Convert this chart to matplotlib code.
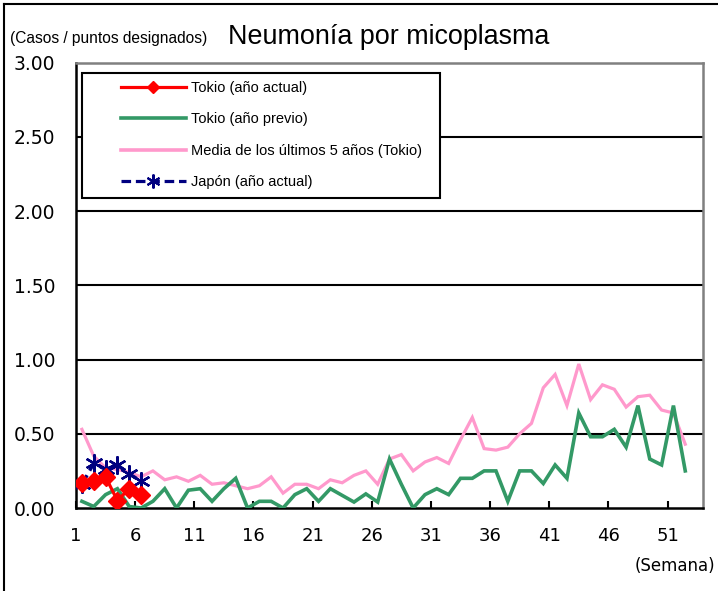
import matplotlib
matplotlib.use("Agg")
import matplotlib.pyplot as plt
from matplotlib.lines import Line2D
from matplotlib.patches import Rectangle
import numpy as np

weeks = list(range(1, 53))
tokyo_prev = [0.045, 0.01, 0.09, 0.13, 0.01, 0.0, 0.045, 0.13, 0.0, 0.12,
              0.13, 0.045, 0.13, 0.20, 0.0, 0.045, 0.045, 0.0, 0.09, 0.13,
              0.045, 0.13, 0.085, 0.04, 0.095, 0.04, 0.33, 0.16, 0.0, 0.09,
              0.13, 0.09, 0.20, 0.20, 0.25, 0.25, 0.045, 0.25, 0.25, 0.165,
              0.29, 0.20, 0.64, 0.48, 0.48, 0.53, 0.41, 0.69, 0.33, 0.29,
              0.69, 0.25]
tokyo_avg5 = [0.53, 0.35, 0.27, 0.26, 0.24, 0.21, 0.25, 0.19, 0.21, 0.18,
              0.22, 0.16, 0.17, 0.15, 0.13, 0.15, 0.21, 0.10, 0.16, 0.16,
              0.13, 0.19, 0.17, 0.22, 0.25, 0.16, 0.33, 0.36, 0.25, 0.31,
              0.34, 0.30, 0.46, 0.61, 0.40, 0.39, 0.41, 0.50, 0.57, 0.81,
              0.90, 0.69, 0.97, 0.73, 0.83, 0.80, 0.68, 0.75, 0.76, 0.66,
              0.64, 0.43]
cur_weeks = [1, 2, 3, 4, 5, 6]
tokyo_cur = [0.17, 0.18, 0.21, 0.05, 0.13, 0.09]
japan_cur = [0.16, 0.30, 0.26, 0.29, 0.23, 0.18]

xtick_labels = ["1", "6", "11", "16", "21", "26", "31", "36", "41", "46", "51"]
yticks = [0.0, 0.5, 1.0, 1.5, 2.0, 2.5, 3.0]

labels = ["Tokio (año actual)", "Tokio (año previo)",
          "Media de los últimos 5 años (Tokio)", "Japón (año actual)"]

W, H = 718, 591
fig = plt.figure(figsize=(W / 100, H / 100), dpi=100)
ax = fig.add_axes([76 / W, 1 - 508 / H, (703 - 76) / W, (508 - 62.7) / H])

c_red = "#FF0000"
c_green = "#339966"
c_pink = "#FF99CC"
c_blue = "#000080"

l_pink, = ax.plot(weeks, tokyo_avg5, color=c_pink, lw=2.3, zorder=3, solid_joinstyle="miter")
l_green, = ax.plot(weeks, tokyo_prev, color=c_green, lw=2.6, zorder=4, solid_joinstyle="miter")
l_blue, = ax.plot(cur_weeks, japan_cur, color=c_blue, lw=2.5, ls=(0, (3, 1.5)),
                  marker=(6, 2, 0), ms=13, mew=1.7, mec=c_blue, zorder=5)
l_red, = ax.plot(cur_weeks, tokyo_cur, color=c_red, lw=2.3, marker="D", ms=9,
                 mfc=c_red, mec=c_red, zorder=6)

ax.set_xlim(0.5, 53.5)
ax.set_ylim(0, 3.0)
ax.set_yticks(yticks)
ax.set_yticklabels([f"{v:.2f}" for v in yticks])
tick_pos = [int(s) - 0.5 for s in xtick_labels]
ax.set_xticks(tick_pos)
ax.set_xticklabels(xtick_labels)

for y in yticks[1:-1]:
    ax.axhline(y, color="black", lw=1.5, zorder=1)

ax.tick_params(axis="y", length=0, pad=15, labelsize=13.5)
ax.tick_params(axis="x", direction="in", length=5, width=1.5, pad=14, labelsize=13)
for lab in ax.get_xticklabels() + ax.get_yticklabels():
    lab.set_family("DejaVu Sans")

for s in ["left", "bottom"]:
    ax.spines[s].set_color("black")
    ax.spines[s].set_linewidth(1.8)
for s in ["top", "right"]:
    ax.spines[s].set_color("#808080")
    ax.spines[s].set_linewidth(1.8)

# legend box
bx0 = (82 - 76) / 627
bx1 = (440 - 76) / 627
by1 = (508 - 73) / 445.3
by0 = (508 - 198) / 445.3
ax.add_patch(Rectangle((bx0, by0), bx1 - bx0, by1 - by0, transform=ax.transAxes,
                       facecolor="white", edgecolor="black", lw=1.5, zorder=7))

h_red = Line2D([], [], color=c_red, lw=2.3, marker="D", ms=6)
h_green = Line2D([], [], color=c_green, lw=2.6)
h_pink = Line2D([], [], color=c_pink, lw=2.6)
h_blue = Line2D([], [], color=c_blue, lw=2.3, ls=(0, (3, 1.5)), marker=(6, 2, 0), ms=10, mew=1.5)
leg = ax.legend([h_red, h_green, h_pink, h_blue], labels,
                loc="upper left", bbox_to_anchor=((121 - 76) / 627, (508 - 81) / 445.3),
                frameon=False, numpoints=1, handlelength=4.45, handletextpad=0.35,
                labelspacing=1.2, borderpad=0, borderaxespad=0,
                prop={"family": "Liberation Sans", "size": 10.5})
leg.set_zorder(8)

fig.text(10 / W, 1 - 38 / H, "(Casos / puntos designados)", family="Liberation Sans",
         fontsize=11.2, va="center", ha="left")
fig.text(389 / W, 1 - 37 / H, "Neumonía por micoplasma", family="Liberation Sans",
         fontsize=19.4, va="center", ha="center")
fig.text(715 / W, 1 - 566 / H, "(Semana)", family="DejaVu Sans",
         fontsize=12, va="center", ha="right")

fig.add_artist(Line2D([4 / W, 4 / W], [0, 1 - 4 / H], color="black", lw=1.5))
fig.add_artist(Line2D([4 / W, 1], [1 - 4 / H, 1 - 4 / H], color="black", lw=1.5))

fig.savefig("out.png", dpi=100)
